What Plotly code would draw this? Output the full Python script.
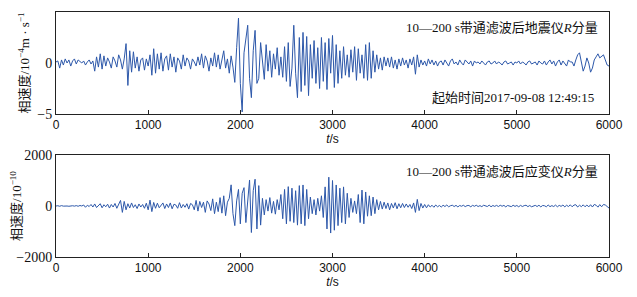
import numpy as np
import plotly.graph_objects as go
from plotly.subplots import make_subplots

# time axis (s), sampled every 20 s
time_s = list(range(0, 6001, 20))

# seismometer R component, 10^-4 m/s
seis_r = [
    0.1, 0.2, -0.5, 0.3, -0.2, 0.4, 0.0, 0.3, -0.3, 0.2,
    0.4, -0.1, 0.3, 0.1, 0.0, 0.2, -0.2, 0.1, 0.3, -0.1,
    0.2, -0.8, 0.6, -0.4, 0.9, -0.6, 0.7, -0.3, 0.5, 0.1,
    -0.5, 0.6, 0.2, -0.4, 0.8, 0.3, -0.6, 0.4, 1.9, -2.2,
    1.2, -0.9, 1.1, -0.5, 0.6, -0.8, 0.3, 0.5, -0.7, 0.4,
    -0.3, 0.8, -1.2, 1.4, -1.0, 0.9, -0.6, 1.0, -0.8, 0.4,
    0.7, -0.7, 0.9, -0.4, 0.6, -0.9, 0.5, 0.2, -0.6, 0.8,
    -0.3, 0.5, 0.2, -0.6, 0.4, 0.1, -0.3, 0.6, -0.2, 0.9,
    -0.5, 0.7, 0.2, -0.8, 0.5, -0.3, 1.0, -0.4, 0.8, -0.6,
    0.3, 1.2, -0.5, 0.4, -1.0, 0.7, -0.4, -1.9, 1.5, 4.4,
    -2.0, -4.8, 1.0, 2.5, 3.7, -1.5, -3.4, 1.2, 3.2, -2.0,
    -1.5, 2.0, 0.5, -1.6, 1.8, -0.8, 1.2, -1.4, 0.9, -0.6,
    1.5, -1.2, 0.6, -1.4, 1.6, -1.8, 2.0, -2.3, -0.5, 3.7,
    -1.0, -3.4, 2.5, -2.8, 3.0, -2.2, 2.6, -3.2, 1.8, -1.5,
    2.2, -2.0, 1.5, -2.5, 2.5, -1.8, 2.0, -2.6, 2.4, -1.0,
    2.7, -2.4, 1.8, -2.0, 1.2, -1.5, 1.6, -1.2, 0.8, -1.4,
    1.3, -0.9, 1.6, -1.7, 1.4, -1.0, 0.8, -1.5, 1.8, -1.7,
    2.0, -1.5, 1.2, -0.9, 0.8, -0.6, 0.5, -0.7, 0.6, -0.3,
    0.5, -0.4, 0.6, -0.5, 0.3, -0.6, 0.4, -0.3, 0.5, -0.2,
    0.3, -0.5, 0.4, -0.2, 0.6, -1.1, 0.8, -0.4, 0.3, -0.2,
    0.2, -0.3, 0.4, -0.1, 0.3, -0.2, 0.2, -0.3, 0.1, 0.2,
    -0.2, 0.3, 0.0, -0.3, 0.2, 0.4, -0.1, 0.1, -0.2, 0.3,
    0.0, -0.2, 0.3, 0.1, -0.1, 0.2, -0.3, 0.2, 0.0, 0.1,
    -0.1, 0.2, 0.0, -0.2, 0.1, 0.2, -0.1, 0.0, 0.2, -0.1,
    0.1, 0.0, -0.2, 0.1, 0.2, -0.1, 0.0, 0.1, -0.2, 0.1,
    0.0, 0.2, -0.1, 0.1, 0.0, -0.2, 0.1, 0.2, -0.1, 0.0,
    0.1, -0.2, 0.2, 0.0, -0.1, 0.2, -0.2, 0.1, 0.3, -0.1,
    0.2, -0.3, 0.1, 0.3, -0.2, 0.2, 0.0, -0.3, 0.3, 0.1,
    0.1, -0.3, 0.3, 0.8, 1.0, 0.2, -0.8, -0.3, 0.5, 0.0,
    -0.9, -0.5, 0.3, 0.6, 0.9, 0.5, 0.7, 0.8, 0.3, -0.2,
    -0.3,
]

# strainmeter R component, 10^-10
strain_r = [
    0, 10, -10, 15, -5, 10, 0, -10, 5, 10,
    -5, 15, -10, 20, 0, 40, -50, 30, -20, 60,
    -40, 80, -60, 30, 90, -70, 50, -30, 70, -80,
    60, -40, 100, -90, 40, 220, -250, 180, -150, 90,
    -80, 120, -60, 50, -100, 80, -40, 60, -90, 110,
    -150, 230, -220, 140, -90, 110, -70, 50, 120, -100,
    80, -60, 120, -110, 70, 40, -90, 130, -80, 60,
    -50, 90, -120, 100, 50, -150, 220, -200, 180, -60,
    150, -250, 200, 80, -180, 280, -300, 150, -220, 330,
    -280, 400, -380, 150, 300, 830, -300, -770, 200, 650,
    -700, 500, 720, -650, 300, 1020, -1040, 600, 1050, -900,
    800, -750, 300, -350, 250, -200, 330, -280, 180, -320,
    250, -150, 450, -500, 650, -700, 760, -600, 700, -650,
    600, -750, 800, -700, 825, -770, 650, -500, 350, -300,
    250, -350, 300, -200, 400, -450, 750, -900, 1130, -1060,
    1000, -950, 825, -770, 700, -650, 750, -700, 500, -450,
    300, -250, 200, -300, 450, -650, 625, -700, 550, -400,
    400, -380, 350, -300, 250, -150, 180, -120, 150, -100,
    120, -150, 100, -80, 130, -110, 90, -70, 100, -60,
    80, -50, 60, -100, 120, -250, 260, -180, 100, -80,
    60, -70, 50, -40, 30, -50, 40, -30, 20, -40,
    30, -20, 40, -30, 10, 30, -20, 25, -35, 20,
    -10, 30, -25, 15, 20, -30, 25, -10, 30, -20,
    15, -25, 30, 10, -20, 35, -30, 20, -15, 25,
    -20, 30, -10, 25, -35, 20, 10, -25, 30, -15,
    20, -30, 25, -20, 15, 30, -25, 20, -30, 10,
    25, -20, 30, -35, 20, 10, -30, 40, -25, 15,
    -20, 35, -30, 25, -15, 40, -35, 30, -20, 45,
    -30, 35, 50, -40, 30, -25, 45, -30, 40, -35,
    50, -40, 60, 30, -45, 55, -30, 60, 40, -20,
    -80,
]

x_ticks = [0, 1000, 2000, 3000, 4000, 5000, 6000]
y1_ticks = [-5, 0, 5]
y2_ticks = [-2000, 0, 2000]

line_color = "#2d58aa"
serif = "Liberation Serif, Noto Sans CJK SC"
sans = "Liberation Sans, Arial"

fig = make_subplots(rows=2, cols=1, vertical_spacing=0.0)
fig.add_trace(go.Scatter(x=time_s, y=seis_r, mode="lines",
                         line=dict(color=line_color, width=1), showlegend=False), row=1, col=1)
fig.add_trace(go.Scatter(x=time_s, y=strain_r, mode="lines",
                         line=dict(color=line_color, width=1), showlegend=False), row=2, col=1)

axis_common = dict(showline=True, linecolor="#222", linewidth=1, mirror=True,
                   showgrid=False, zeroline=False, automargin=False)

fig.update_xaxes(range=[0, 6000], tickvals=x_ticks, ticks="inside", ticklen=4,
                 tickcolor="#222", tickfont=dict(family=sans, size=12, color="#111"),
                 title=dict(text="<i>t</i>/s", font=dict(family=sans, size=12, color="#111"),
                            standoff=0),
                 **axis_common)
fig.update_yaxes(range=[-5, 5], tickvals=y1_ticks, ticks="",
                 tickfont=dict(family=serif, size=14, color="#111"),
                 title=dict(text="相速度/10<sup>−4</sup>m · s<sup>−1</sup>",
                            font=dict(family=serif, size=13, color="#111"), standoff=4),
                 row=1, col=1, **axis_common)
fig.update_yaxes(range=[-2000, 2000], tickvals=y2_ticks, ticks="",
                 tickfont=dict(family=serif, size=14, color="#111"),
                 title=dict(text="相速度/10<sup>−10</sup>",
                            font=dict(family=serif, size=13, color="#111"), standoff=4),
                 row=2, col=1, **axis_common)

fig.update_layout(
    width=637, height=297,
    margin=dict(l=48, r=36, t=4, b=48, autoexpand=False),
    paper_bgcolor="white", plot_bgcolor="white",
    xaxis=dict(domain=[0, 1]),
    yaxis=dict(domain=[0.5837, 1.0]),
    yaxis2=dict(domain=[0.0, 0.4163]),
)

ann_font = dict(family=serif, size=13, color="#111")
fig.add_annotation(text="10—200 s带通滤波后地震仪<i>R</i>分量", xref="x", yref="y",
                   x=5900, y=3.5, xanchor="right", yanchor="middle", showarrow=False, font=ann_font)
fig.add_annotation(text="起始时间2017-09-08 12:49:15", xref="x", yref="y",
                   x=5860, y=-3.4, xanchor="right", yanchor="middle", showarrow=False, font=ann_font)
fig.add_annotation(text="10—200 s带通滤波后应变仪<i>R</i>分量", xref="x2", yref="y2",
                   x=5900, y=1350, xanchor="right", yanchor="middle", showarrow=False, font=ann_font)

fig.write_html("out.html")
